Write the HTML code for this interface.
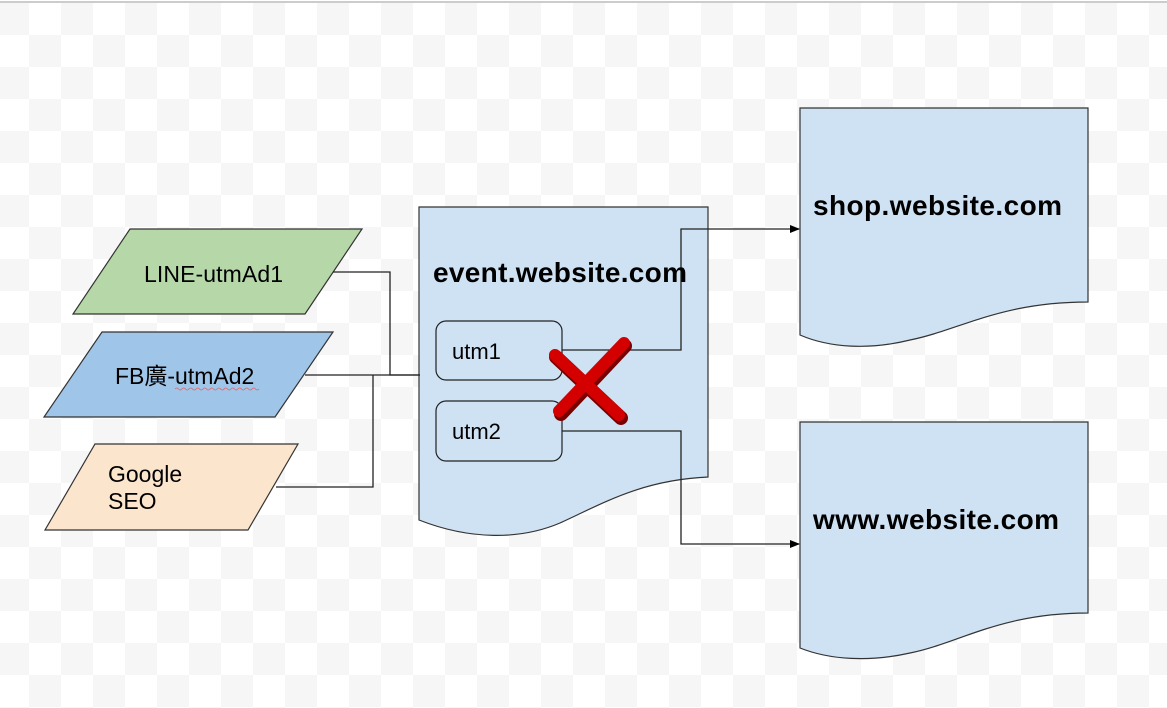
<!DOCTYPE html>
<html><head><meta charset="utf-8"><style>
html,body{margin:0;padding:0;width:1167px;height:708px;overflow:hidden;background:#fff}
svg{display:block}
text{font-family:"Liberation Sans","Noto Sans CJK TC",sans-serif;fill:#000}
</style></head><body>
<svg width="1167" height="708" viewBox="0 0 1167 708" xmlns="http://www.w3.org/2000/svg">
<defs>
<pattern id="ck" x="-3" y="3" width="64" height="64" patternUnits="userSpaceOnUse">
<rect width="64" height="64" fill="#fff"/>
<rect width="32" height="32" fill="#f6f6f6"/>
<rect x="32" y="32" width="32" height="32" fill="#f6f6f6"/>
</pattern>
<marker id="ar" markerWidth="10" markerHeight="8" refX="9" refY="4" orient="auto" markerUnits="userSpaceOnUse">
<path d="M0,0 L10,4 L0,8 Z" fill="#000"/>
</marker>
</defs>
<rect x="0" y="3" width="1167" height="705" fill="url(#ck)"/>
<rect x="0" y="0" width="1167" height="3" fill="#fff"/>
<rect x="0" y="1" width="1167" height="2" fill="#cccccc"/>

<path d="M419,207 H708 V477 C640,480 600,505 560,523 C520,540 470,540 419,520 Z" fill="#cfe2f3" stroke="#333" stroke-width="1.2"/>
<path d="M800,108 H1088 V302 C1000,302 960,330 910,340 C870,350 830,348 800,335 Z" fill="#cfe2f3" stroke="#333" stroke-width="1.2"/>
<path d="M800,422 H1088 V613 C1000,613 960,643 910,653 C870,662 830,660 800,648 Z" fill="#cfe2f3" stroke="#333" stroke-width="1.2"/>

<polygon points="130,229 362,229 305,314 73,314" fill="#b6d7a8" stroke="#333" stroke-width="1.2"/>
<polygon points="102,332 333,332 275,417 44,417" fill="#9fc5e8" stroke="#333" stroke-width="1.2"/>
<polygon points="95,444 298,444 248,530 45,530" fill="#fce5cd" stroke="#333" stroke-width="1.2"/>

<g fill="none" stroke="#222" stroke-width="1.3">
<polyline points="333,272 390,272 390,375 420,375"/>
<polyline points="305,375 420,375"/>
<polyline points="276,487 373,487 373,375"/>
<polyline points="562,350 681,350 681,229 799,229" marker-end="url(#ar)"/>
<polyline points="562,431 681,431 681,544 799,544" marker-end="url(#ar)"/>
</g>

<rect x="436" y="321" width="126" height="59" rx="10" fill="#cfe2f3" stroke="#222" stroke-width="1.2"/>
<rect x="436" y="401" width="126" height="60" rx="10" fill="#cfe2f3" stroke="#222" stroke-width="1.2"/>

<g stroke-linecap="round">
<line x1="556" y1="357" x2="621" y2="418" stroke="#7a0000" stroke-width="14"/>
<line x1="625" y1="346" x2="561" y2="414" stroke="#7a0000" stroke-width="14"/>
<line x1="555" y1="355" x2="619" y2="415" stroke="#d40000" stroke-width="12"/>
<line x1="624" y1="343" x2="559" y2="411" stroke="#d40000" stroke-width="12"/>
</g>

<text x="144" y="282" font-size="23" textLength="139">LINE-utmAd1</text>
<text x="115" y="384" font-size="23">FB廣-utmAd2</text>
<path d="M175,389 q1.75,-2 3.5,0 t3.5,0 t3.5,0 t3.5,0 t3.5,0 t3.5,0 t3.5,0 t3.5,0 t3.5,0 t3.5,0 t3.5,0 t3.5,0 t3.5,0 t3.5,0 t3.5,0 t3.5,0 t3.5,0 t3.5,0 t3.5,0 t3.5,0 t3.5,0 t3.5,0 t3.5,0 t3.5,0" fill="none" stroke="#e06666" stroke-width="0.8"/>
<text x="108" y="482" font-size="23">Google</text>
<text x="108" y="509" font-size="23">SEO</text>
<text x="452" y="359" font-size="22">utm1</text>
<text x="452" y="439" font-size="22">utm2</text>
<text x="433" y="282" font-size="28" font-weight="bold" textLength="254">event.website.com</text>
<text x="813" y="215" font-size="28" font-weight="bold" textLength="249">shop.website.com</text>
<text x="813" y="529" font-size="28" font-weight="bold" textLength="246">www.website.com</text>
</svg>
</body></html>
